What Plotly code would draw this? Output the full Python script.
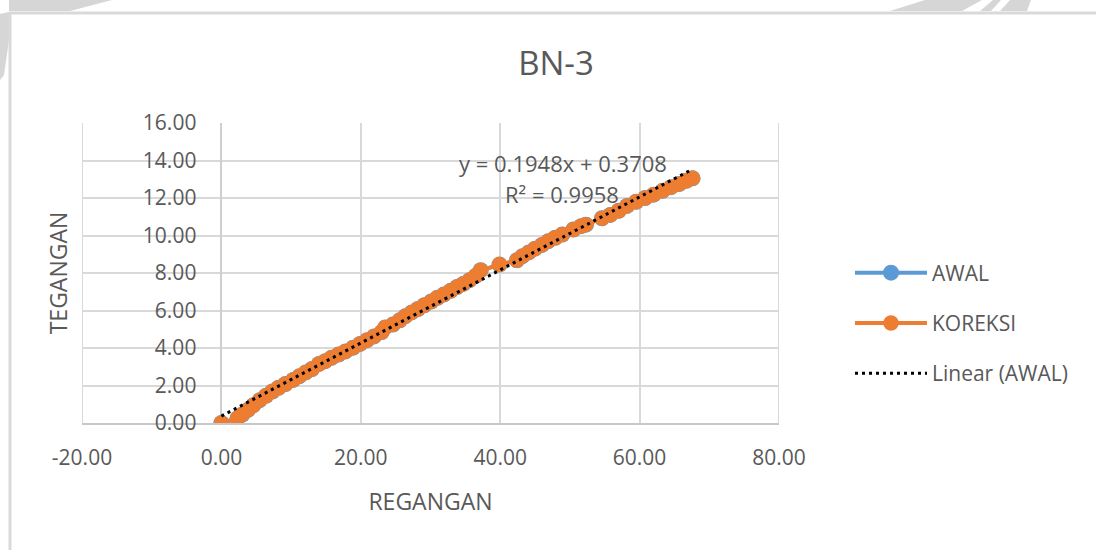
import plotly.graph_objects as go

# ---------------- data ----------------
regangan = [0.0, 2.3, 3.0, 3.8, 4.6, 5.5, 6.4, 7.3, 8.2, 9.2, 10.3, 11.2, 12.1, 13.0,
            14.0, 14.9, 15.8, 16.8, 17.8, 18.9, 19.9, 20.9, 21.9, 23.0, 23.5, 24.6,
            25.6, 26.4, 27.3, 28.2, 29.1, 30.1, 31.0, 31.9, 32.9, 33.8, 34.7, 35.6,
            36.5, 37.2, 39.9, 42.4, 43.2, 44.1, 45.0, 46.0, 46.9, 47.9, 48.9, 50.5,
            51.6, 52.3, 54.6, 55.8, 57.0, 58.2, 59.5, 60.8, 62.0, 63.3, 64.5, 65.7,
            66.7, 67.6]
tegangan_awal = [0.00, 0.25, 0.45, 0.70, 0.95, 1.22, 1.45, 1.68, 1.88, 2.08, 2.30, 2.50,
                 2.70, 2.88, 3.15, 3.30, 3.48, 3.65, 3.82, 4.02, 4.22, 4.42, 4.62, 4.85,
                 5.10, 5.25, 5.48, 5.70, 5.90, 6.08, 6.28, 6.48, 6.68, 6.85, 7.05, 7.25,
                 7.42, 7.62, 7.85, 8.15, 8.45, 8.68, 8.90, 9.10, 9.30, 9.50, 9.70, 9.88,
                 10.05, 10.32, 10.50, 10.58, 10.92, 11.10, 11.32, 11.58, 11.80, 12.00,
                 12.18, 12.38, 12.58, 12.75, 12.92, 13.05]
tegangan_koreksi = list(tegangan_awal)

trend_slope = 0.1948
trend_intercept = 0.3708
trend_r2 = 0.9958

title_text = "BN-3"
x_title = "REGANGAN"
y_title = "TEGANGAN"
x_tickvals = [-20, 0, 20, 40, 60, 80]
y_tickvals = [0, 2, 4, 6, 8, 10, 12, 14, 16]
x_ticktext = [f"{v:.2f}" for v in x_tickvals]
y_ticktext = [f"{v:.2f}" for v in y_tickvals]

# ---------------- styling ----------------
FONT = "Open Sans"
TXT = "#595959"
GRID = "#d9d9d9"
BLUE = "#5B9BD5"
ORANGE = "#ED7D31"

W, H = 1096, 550
PL, PR, PT, PB = 82, 779, 123, 423  # plot area pixel box


def px2paper(px, py):
    return (px - PL) / (PR - PL), (PB - py) / (PB - PT)


fig = go.Figure()

fig.add_trace(go.Scatter(
    x=regangan, y=tegangan_awal, name="AWAL", mode="lines+markers",
    line=dict(color=BLUE, width=4), marker=dict(color=BLUE, size=16),
    legendgroup="a"))
fig.add_trace(go.Scatter(
    x=regangan, y=tegangan_koreksi, name="KOREKSI", mode="lines+markers",
    line=dict(color=ORANGE, width=4), marker=dict(color=ORANGE, size=15.5),
    legendgroup="b"))

tx = [min(regangan), max(regangan)]
ty = [trend_slope * v + trend_intercept for v in tx]
fig.add_trace(go.Scatter(
    x=tx, y=ty, name="Linear (AWAL)", mode="lines",
    line=dict(color="black", width=3, dash="3px,4px"), legendgroup="c"))

# trendline label
fig.add_annotation(x=49.0, y=13.87, xref="x", yref="y", showarrow=False,
                   text=f"y = {trend_slope}x + {trend_intercept}",
                   font=dict(family=FONT, size=22, color=TXT))
fig.add_annotation(x=48.8, y=12.2, xref="x", yref="y", showarrow=False,
                   text=f"R² = {trend_r2}",
                   font=dict(family=FONT, size=22, color=TXT))

# chart frame, outer plot-area edges, faint watermark fragments
shapes = []
def poly(points, color="#d6d6d6"):
    pts = [px2paper(x, y) for x, y in points]
    path = "M " + " L ".join(f"{a:.5f},{b:.5f}" for a, b in pts) + " Z"
    return dict(type="path", xref="paper", yref="paper", path=path,
                fillcolor=color, line=dict(width=0), layer="below")

shapes.append(poly([(28, 0), (112, 0), (70, 11), (9, 11), (9, 0)]))
shapes.append(poly([(0, 14), (9, 12), (9, 40), (4, 75), (0, 80)]))
shapes.append(poly([(925, 0), (982, 0), (962, 11), (890, 11)]))
shapes.append(poly([(993, 0), (1001, 0), (991, 11), (980, 11)]))
shapes.append(poly([(1010, 0), (1031, 0), (1027, 11), (1000, 11)]))
x0, y0 = px2paper(10, 13)
x1, y1 = px2paper(1110, 570)
shapes.append(dict(type="rect", xref="paper", yref="paper", x0=x0, y0=y1, x1=x1, y1=y0,
                   line=dict(color="#d9d9d9", width=3), fillcolor="rgba(0,0,0,0)",
                   layer="below"))
for xv in (x_tickvals[0], x_tickvals[-1]):
    shapes.append(dict(type="line", xref="x", yref="paper", x0=xv, x1=xv, y0=0, y1=1,
                       line=dict(color=GRID, width=2), layer="below"))

fig.update_layout(
    width=W, height=H,
    margin=dict(l=PL, r=W - PR, t=PT, b=H - PB, pad=0),
    paper_bgcolor="white", plot_bgcolor="rgba(0,0,0,0)",
    font=dict(family=FONT, color=TXT, size=21),
    title=dict(text=title_text, x=(556) / W, xanchor="center", y=1 - 63 / H, yanchor="middle",
               font=dict(family=FONT, size=33, color=TXT)),
    showlegend=True,
    legend=dict(x=px2paper(850, 0)[0], xanchor="left", y=px2paper(0, 323)[1], yanchor="middle",
                font=dict(family=FONT, size=21, color=TXT), tracegroupgap=20,
                itemwidth=72, bgcolor="rgba(0,0,0,0)"),
    shapes=shapes,
    xaxis=dict(range=[-20, 80], tickvals=x_tickvals, ticktext=x_ticktext,
               showgrid=True, gridcolor=GRID, gridwidth=2,
               zeroline=True, zerolinecolor="#cfcfcf", zerolinewidth=2,
               showline=True, linecolor="#c8c8c8", linewidth=2,
               ticks="", ticklabelstandoff=15,
               tickfont=dict(family=FONT, size=21, color=TXT),
               title=dict(text=x_title, standoff=24, font=dict(family=FONT, size=23, color=TXT))),
    yaxis=dict(range=[0, 16], tickvals=y_tickvals, ticktext=y_ticktext,
               anchor="free", position=0.2,
               showgrid=True, gridcolor=GRID, gridwidth=2, zeroline=False,
               showline=False, ticks="", ticklabelstandoff=25,
               tickfont=dict(family=FONT, size=21, color=TXT),
               title=dict(text=y_title, standoff=67, font=dict(family=FONT, size=23, color=TXT))),
)

fig.write_html("out.html", config={"displayModeBar": False},
               post_script="document.body.style.margin='0';")
